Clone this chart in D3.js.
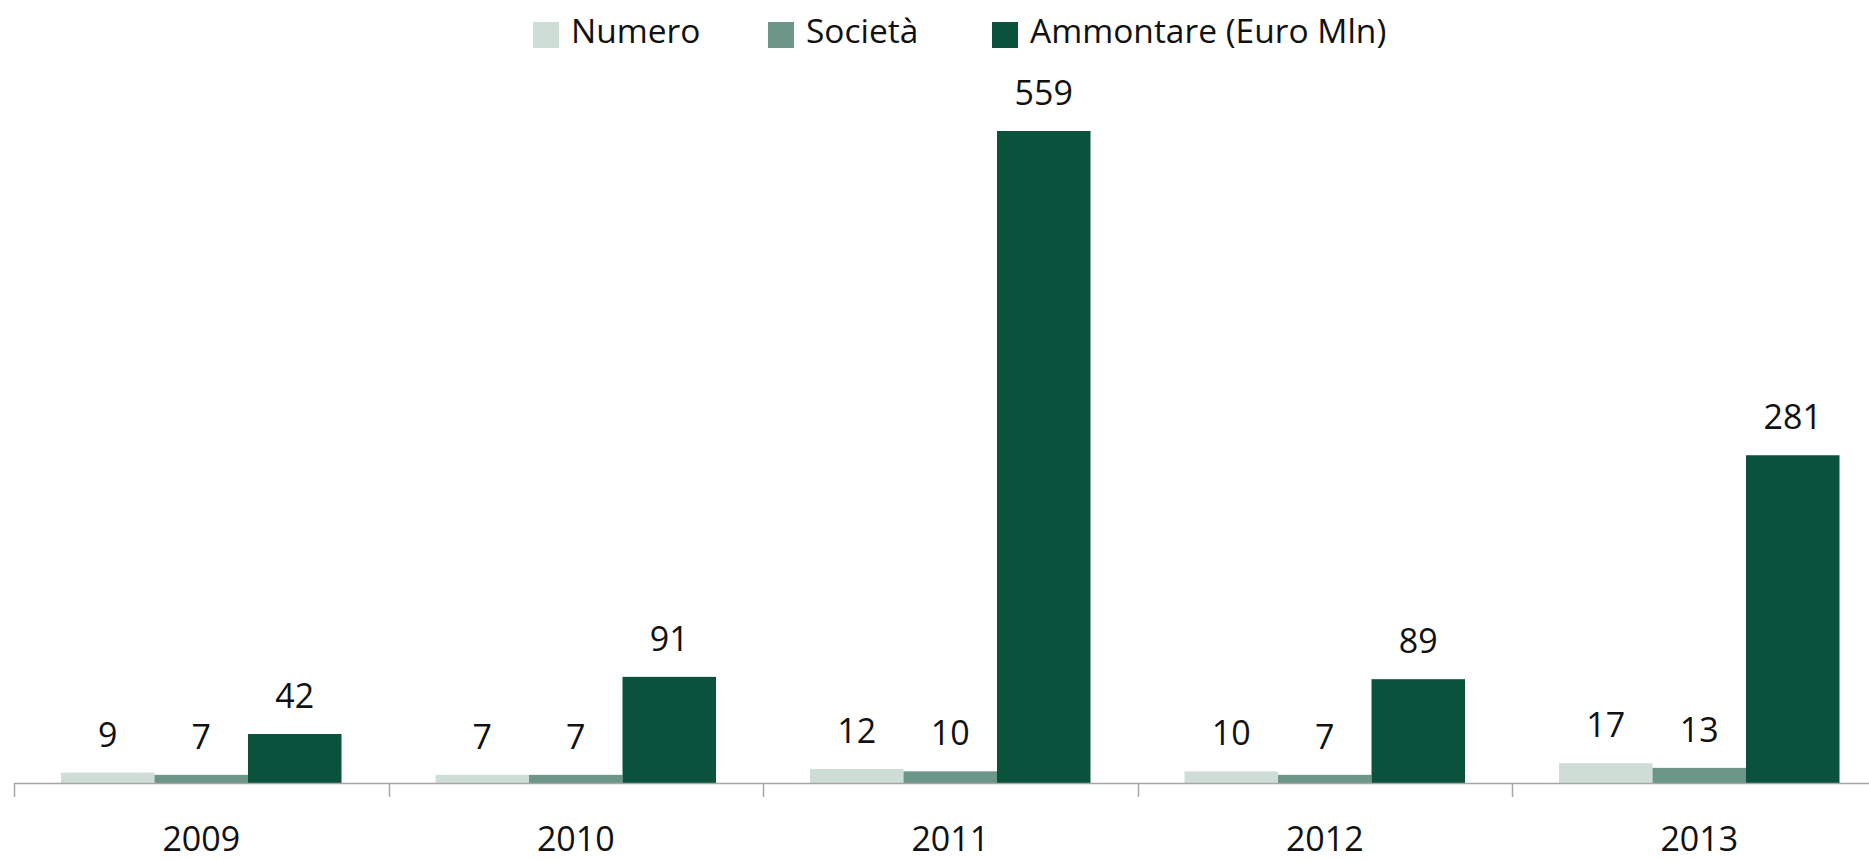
<!DOCTYPE html>
<html>
<head>
<meta charset="utf-8">
<script src="https://cdn.jsdelivr.net/npm/d3@7"></script>
<style>
  html, body { margin: 0; padding: 0; background: #fff; }
  svg { display: block; font-family: "Open Sans", "Noto Sans", sans-serif; }
</style>
</head>
<body>
<svg id="chart" width="1869" height="860"></svg>
<script>
const years = ["2009", "2010", "2011", "2012", "2013"];
const seriesNames = ["Numero", "Società", "Ammontare (Euro Mln)"];
const numero = [9, 7, 12, 10, 17];
const societa = [7, 7, 10, 7, 13];
const ammontare = [42, 91, 559, 89, 281];
const colors = ["#cfddd7", "#6c9687", "#0b523c"];

const seriesValues = [numero, societa, ammontare];
const data = years.map((y, i) => ({ year: y, values: seriesValues.map(s => s[i]) }));

const W = 1869, H = 860;
const baseY = 783;
const svg = d3.select("#chart");

const x0 = d3.scaleBand().domain(years).range([14, 14 + 5 * 374.5]).paddingInner(0).paddingOuter(0);
const x1 = d3.scaleBand().domain(d3.range(seriesNames.length)).range([47, 327.5]).padding(0);
const y = d3.scaleLinear().domain([0, 559]).range([baseY, 131]);

// bars
const g = svg.append("g");
const groups = g.selectAll("g.grp").data(data).join("g")
  .attr("class", "grp")
  .attr("transform", d => `translate(${x0(d.year)},0)`);

groups.selectAll("rect").data(d => d.values.map((v, i) => ({ v, i }))).join("rect")
  .attr("x", d => x1(d.i))
  .attr("width", x1.bandwidth())
  .attr("y", d => y(d.v))
  .attr("height", d => baseY - y(d.v))
  .attr("fill", d => colors[d.i]);

groups.selectAll("text.val").data(d => d.values.map((v, i) => ({ v, i }))).join("text")
  .attr("class", "val")
  .attr("x", d => x1(d.i) + x1.bandwidth() / 2)
  .attr("y", d => y(d.v) - 26)
  .attr("text-anchor", "middle")
  .attr("font-size", 34)
  .attr("fill", "#111")
  .text(d => d.v);

// axis
const axis = d3.axisBottom(x0).tickSize(0).tickPadding(0).tickFormat(d => d);
const ax = svg.append("g").attr("transform", `translate(0,${baseY})`).call(axis);
ax.select(".domain").remove();
ax.selectAll(".tick line").remove();
ax.selectAll(".tick text")
  .attr("y", 68)
  .attr("dy", 0)
  .attr("font-size", 34)
  .attr("font-family", "\"Open Sans\", \"Noto Sans\", sans-serif")
  .attr("fill", "#111");

svg.append("line")
  .attr("x1", 14).attr("x2", W)
  .attr("y1", baseY + 0.5).attr("y2", baseY + 0.5)
  .attr("stroke", "#a6a6a6").attr("stroke-width", 1.5);

const boundaries = years.map(yv => x0(yv));
svg.selectAll("line.tk").data(boundaries).join("line")
  .attr("class", "tk")
  .attr("x1", d => Math.round(d) + 0.5).attr("x2", d => Math.round(d) + 0.5)
  .attr("y1", baseY).attr("y2", baseY + 14)
  .attr("stroke", "#a6a6a6").attr("stroke-width", 1.5);

// legend
const legendX = [533, 768, 992];
const lg = svg.append("g");
seriesNames.forEach((name, i) => {
  lg.append("rect")
    .attr("x", legendX[i]).attr("y", 22)
    .attr("width", 26).attr("height", 26)
    .attr("fill", colors[i]);
  lg.append("text")
    .attr("x", legendX[i] + 38).attr("y", 43)
    .attr("font-size", 33.5)
    .attr("fill", "#111")
    .text(name);
});
</script>
</body>
</html>
